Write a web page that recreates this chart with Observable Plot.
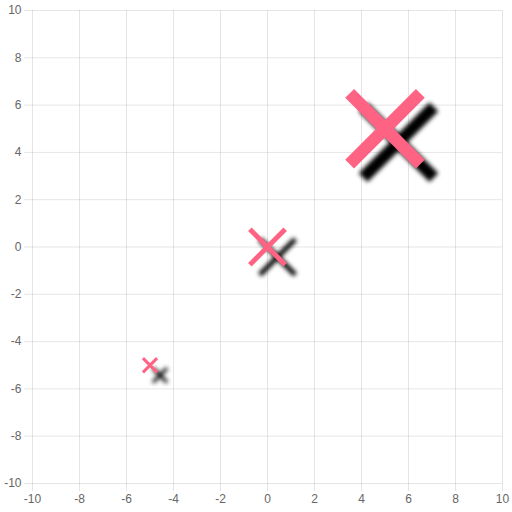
<!DOCTYPE html>
<html>
<head>
<meta charset="utf-8">
<script src="https://cdn.jsdelivr.net/npm/d3@7"></script>
<script src="https://cdn.jsdelivr.net/npm/@observablehq/plot@0.6"></script>
<style>
  html, body { margin: 0; padding: 0; background: #fff; }
</style>
</head>
<body>
<div id="chart"></div>
<script>
// bubble data
const xs = [-5, 0, 5];
const ys = [-5, 0, 5];
const radii = [10, 25, 50];
const tickValues = [-10, -8, -6, -4, -2, 0, 2, 4, 6, 8, 10];

let points = xs.map((x, i) => ({x: x, y: ys[i], r: radii[i]}));

const gridColor = "rgba(0,0,0,0.1)";
const pink = "rgb(255,99,132)";

// line width grows with the bubble radius
let lineWidth = d3.scaleLinear().domain([10, 25, 50]).range([3, 5, 12.5]);

// rotated cross, like chart.js "crossRot"
const crossRot = {
    draw(context, size) {
        let r = Math.sqrt(size / Math.PI);
        let o = r * Math.SQRT1_2;
        context.moveTo(-o, -o);
        context.lineTo(o, o);
        context.moveTo(-o, o);
        context.lineTo(o, -o);
    }
};

// same cross shifted down-right for the shadow
const crossRotShadow = {
    draw(context, size) {
        let r = Math.sqrt(size / Math.PI);
        let o = r * Math.SQRT1_2;
        let s = Math.max(10, r * 0.27);
        context.moveTo(s - o, s - o);
        context.lineTo(s + o, s + o);
        context.moveTo(s - o, s + o);
        context.lineTo(s + o, s - o);
    }
};

let plot = Plot.plot({
    width: 512,
    height: 512,
    marginLeft: 32,
    marginRight: 10,
    marginTop: 10,
    marginBottom: 29,
    x: {domain: [-10, 10]},
    y: {domain: [-10, 10]},
    r: {type: "identity"},
    style: {
        fontSize: "12px",
        fontFamily: "'Liberation Sans', Arial, Helvetica, sans-serif",
        color: "#666",
        background: "#fff",
        overflow: "visible"
    },
    marks: [
        Plot.gridX(tickValues, {stroke: gridColor, strokeOpacity: 1}),
        Plot.gridY(tickValues, {stroke: gridColor, strokeOpacity: 1}),
        Plot.axisX(tickValues, {
            tickSize: 8, tickPadding: 3, stroke: gridColor, strokeOpacity: 1,
            fill: "#666", tickFormat: d => String(d), label: null
        }),
        Plot.axisY(tickValues, {
            tickSize: 8, tickPadding: 3, stroke: gridColor, strokeOpacity: 1,
            fill: "#666", tickFormat: d => String(d), label: null
        }),
        Plot.dot(points, {
            x: "x", y: "y", r: "r", symbol: crossRotShadow,
            stroke: "#000", strokeWidth: d => lineWidth(d.r), fill: "none"
        }),
        Plot.dot(points, {
            x: "x", y: "y", r: "r", symbol: crossRot,
            stroke: pink, strokeWidth: d => lineWidth(d.r), fill: "none"
        })
    ]
});

// blur the shadow crosses
let svg = d3.select(plot);
svg.insert("defs", ":first-child")
    .append("filter")
    .attr("id", "shadow-blur")
    .attr("x", "-50%").attr("y", "-50%")
    .attr("width", "200%").attr("height", "200%")
    .append("feGaussianBlur")
    .attr("stdDeviation", 2);
let dotGroups = svg.selectAll("g[aria-label='dot']").nodes();
if (dotGroups.length) d3.select(dotGroups[0]).attr("filter", "url(#shadow-blur)");
svg.selectAll("path").attr("stroke-linecap", "butt");

document.getElementById("chart").append(plot);
</script>
</body>
</html>
